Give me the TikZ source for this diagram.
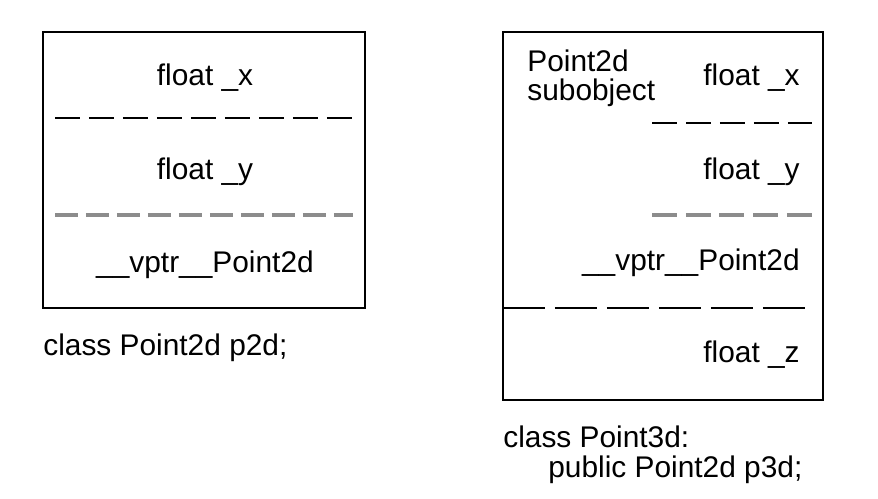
\documentclass[tikz,border=0pt]{standalone}
\usepackage{fontspec}
\setmainfont{Liberation Sans}
\usetikzlibrary{positioning}
\definecolor{dashgray}{HTML}{8C8C8C}

\begin{document}
\begin{tikzpicture}[x=0.02cm, y=-0.02cm,
    field/.style={font=\fontsize{17}{18}\selectfont, inner sep=0pt},
    membox/.style={draw, line width=1.1pt, inner sep=0pt},
    blackdash/.style={line width=1.1pt, dash pattern=on 0.5cm off 0.18cm},
    longdash/.style={line width=1.1pt, dash pattern=on 0.84cm off 0.2cm},
    graydash/.style={draw=dashgray, line width=2pt, dash pattern=on 0.46cm off 0.16cm},
    caption/.style={field, anchor=west}
]
\useasboundingbox (0,0) rectangle (878,499);

% --- Point2d object ---
\node[membox, minimum width=6.44cm, minimum height=5.52cm] (p2d) at (204,170) {};
\node[field] (p2dx) at (205,78) {float \_x};
\node[field] (p2dy) at (205,172) {float \_y};
\node[field] (p2dvp) at (205,265) {\_\_vptr\_\_Point2d};
\coordinate (p2dsep1w) at (55,118);  \coordinate (p2dsep1e) at (353,118);
\coordinate (p2dsep2w) at (55,215);  \coordinate (p2dsep2e) at (353,215);
\draw[blackdash] (p2dsep1w) -- (p2dsep1e);
\draw[graydash] (p2dsep2w) -- (p2dsep2e);
\node[caption] (p2dcap) at (43,348) {class Point2d p2d;};

% --- Point3d object ---
\node[membox, minimum width=6.4cm, minimum height=7.36cm] (p3d) at (663,216) {};
\node[field, anchor=north west, align=left] (sub) at (527,50) {Point2d\\[-2pt]subobject};
\node[field, anchor=east] (p3dx) at (800,78) {float \_x};
\node[field, anchor=east] (p3dy) at (800,172) {float \_y};
\node[field, anchor=east] (p3dvp) at (800,263) {\_\_vptr\_\_Point2d};
\node[field, anchor=east] (p3dz) at (800,355) {float \_z};
\coordinate (p3dsep1w) at (652,123);  \coordinate (p3dsep1e) at (812,123);
\coordinate (p3dsep2w) at (652,215);  \coordinate (p3dsep2e) at (812,215);
\coordinate (p3dsep3w) at (503,308);  \coordinate (p3dsep3e) at (812,308);
\draw[blackdash] (p3dsep1w) -- (p3dsep1e);
\draw[graydash, dash pattern=on 0.5cm off 0.175cm] (p3dsep2w) -- (p3dsep2e);
\draw[longdash] (p3dsep3w) -- (p3dsep3e);
\node[caption] (p3dcap1) at (503,437) {class Point3d:};
\node[caption] (p3dcap2) at (548,470) {public Point2d p3d;};

\end{tikzpicture}
\end{document}
